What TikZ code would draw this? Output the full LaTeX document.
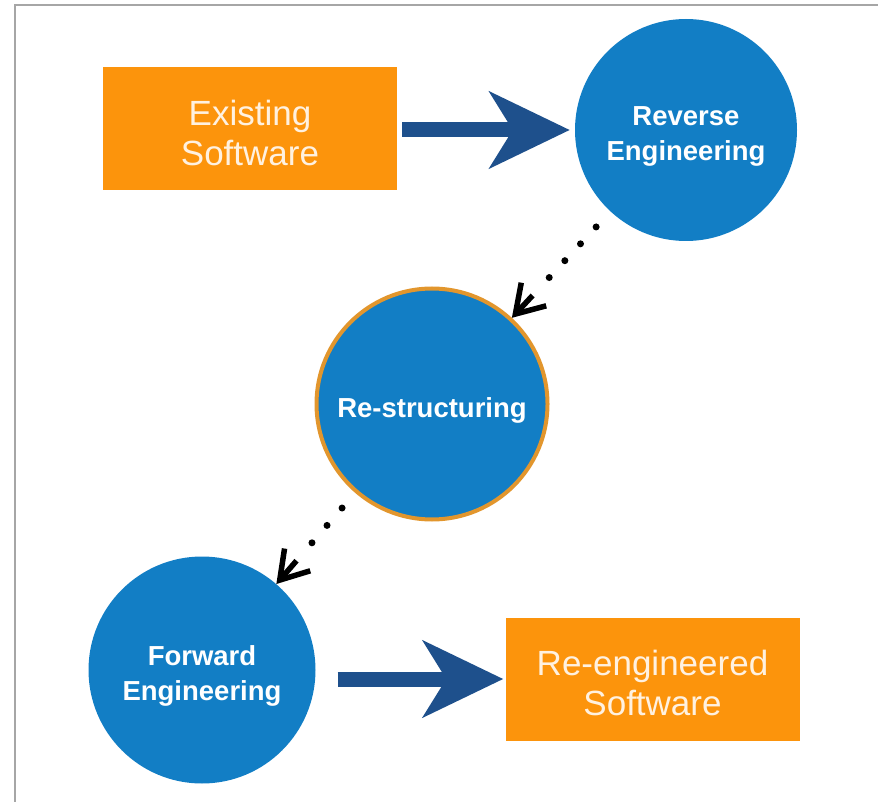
\documentclass[tikz,border=0pt]{standalone}
\usepackage{fontspec}
\setmainfont{Liberation Sans}
\usetikzlibrary{arrows.meta,calc}
\definecolor{boxorange}{RGB}{252,148,12}
\definecolor{boxtext}{RGB}{255,241,224}
\definecolor{stageblue}{RGB}{18,126,197}
\definecolor{rimorange}{RGB}{226,150,45}
\definecolor{arrowblue}{RGB}{30,80,140}

\begin{document}
\begin{tikzpicture}[x=1pt,y=-1pt,
    box/.style={fill=boxorange,minimum width=294pt,minimum height=123pt,inner sep=0pt},
    boxtag/.style={align=center,text=boxtext,font=\fontsize{35}{40}\selectfont,yshift=-4pt},
    stage/.style={circle,fill=stageblue,inner sep=0pt},
    stagetag/.style={align=center,text=white,font=\bfseries\fontsize{27.5}{35}\selectfont,yshift=-6pt},
    fat/.style={draw=arrowblue,line width=15pt,-{Stealth[length=80pt,width=76pt,inset=23pt]}},
    dotline/.style={line width=7pt,line cap=round,dash pattern=on 0pt off 23pt},
    barb/.style={line width=5.5pt,-{Straight Barb[length=27pt,width=34pt]}}]
    \useasboundingbox (0,0) rectangle (878,802);
    \draw[gray!70,line width=1.5pt] (15,802)--(15,5)--(878,5);
    % stages
    \node[box,label={[boxtag]center:Existing\\Software}] (exist) at (250,128.5) {};
    \node[stage,minimum size=222pt,label={[stagetag]center:Reverse\\Engineering}] (rev) at (686,130) {};
    \node[stage,draw=rimorange,line width=4pt,minimum size=231pt,
      label={[stagetag]center:Re-structuring}] (restr) at (432,404) {};
    \node[stage,minimum size=227pt,label={[stagetag]center:Forward\\Engineering}] (fwd) at (202,670) {};
    \node[box,label={[boxtag]center:Re-engineered\\Software}] (remade) at (652.5,679) {};
    % connectors
    \draw[fat,shorten <=5pt,shorten >=5pt] (rev.west -| exist.east)--(rev.west);
    \draw[dotline,shorten <=21pt,shorten >=52pt] (rev)--(restr);
    \draw[barb] ($(restr.center)!148pt!(rev.center)$)--(restr);
    \draw[dotline,shorten <=20pt,shorten >=33pt] (restr)--(fwd);
    \draw[barb] ($(fwd.center)!144.5pt!(restr.center)$)--(fwd);
    \draw[fat,shorten <=22pt,shorten >=2pt] (fwd.east |- remade.west)--(remade.west);
\end{tikzpicture}
\end{document}
